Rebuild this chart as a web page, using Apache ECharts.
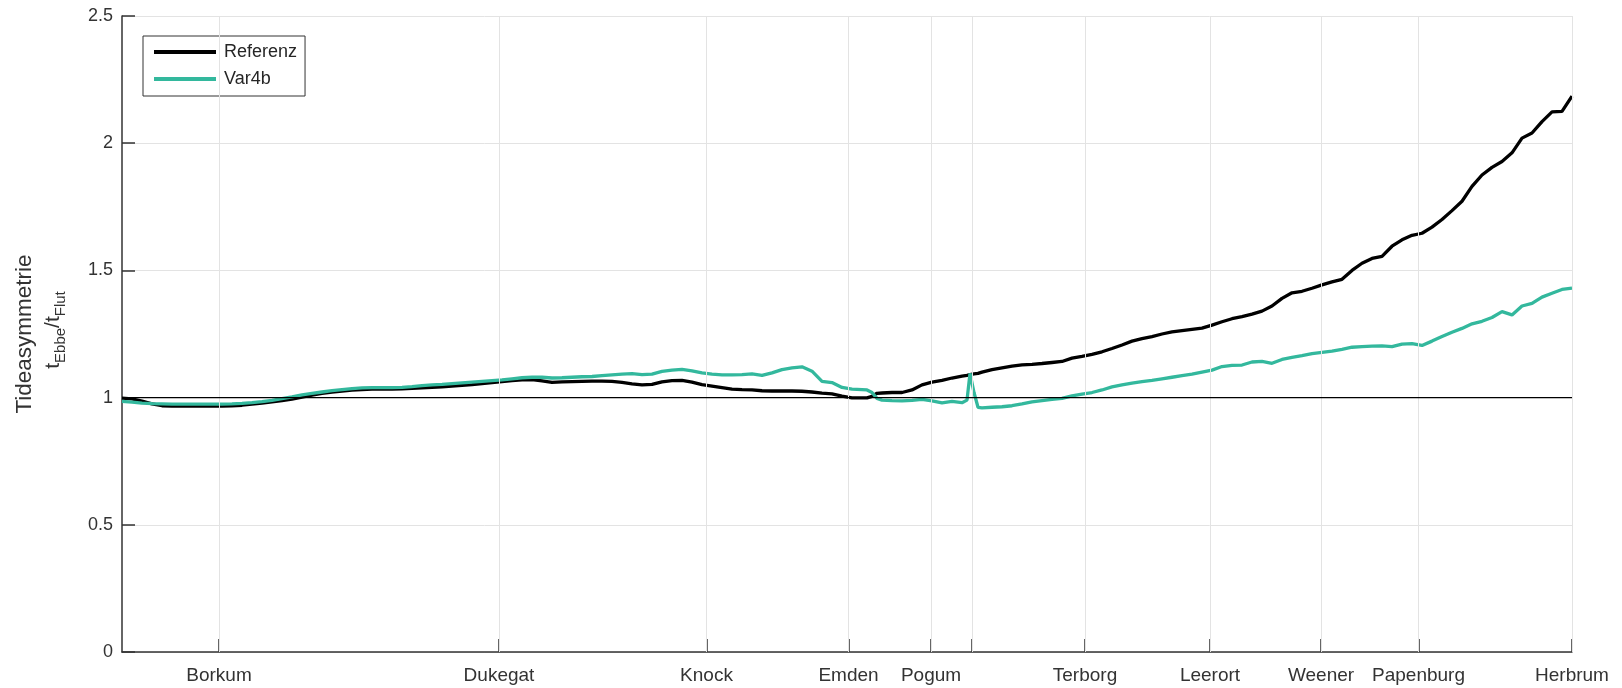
<!DOCTYPE html>
<html>
<head>
<meta charset="utf-8">
<script src="https://cdn.jsdelivr.net/npm/echarts@6/dist/echarts.min.js"></script>
<style>
  html, body { margin: 0; padding: 0; background: #fff; }
  #chart { width: 1622px; height: 688px; }
</style>
</head>
<body>
<div id="chart"></div>
<script>
// Gauging stations along the Ems (position in km from the left end of the profile)
const stationNames = ['Borkum', 'Dukegat', 'Knock', 'Emden', 'Pogum', '', 'Terborg', 'Leerort', 'Weener', 'Papenburg', 'Herbrum'];
const stationKm = [9.7, 37.7, 58.45, 72.65, 80.9, 85.0, 96.3, 108.8, 119.9, 129.65, 145.0];

// Profile positions (km)
const kmPos = [
  0, 1, 2, 3, 4, 5, 6, 7, 8, 9,
  10, 11, 12, 13, 14, 15, 16, 17, 18, 19,
  20, 21, 22, 23, 24, 25, 26, 27, 28, 29,
  30, 31, 32, 33, 34, 35, 36, 37, 38, 39,
  40, 41, 42, 43, 44, 45, 46, 47, 48, 49,
  50, 51, 52, 53, 54, 55, 56, 57, 58, 59,
  60, 61, 62, 63, 64, 65, 66, 67, 68, 69,
  70, 71, 72, 73, 74, 74.5, 75, 75.5, 76, 77, 78, 79,
  80, 81, 82, 83, 84, 84.5, 84.8, 85.2, 85.6, 86, 87, 88, 89,
  90, 91, 92, 93, 94, 95, 96, 97, 98, 99,
  100, 101, 102, 103, 104, 105, 106, 107, 108, 109,
  110, 111, 112, 113, 114, 115, 116, 117, 118, 119,
  120, 121, 122, 123, 124, 125, 126, 127, 128, 129,
  130, 131, 132, 133, 134, 135, 136, 137, 138, 139,
  140, 141, 142, 143, 144, 145
];

// Tidal asymmetry t_Ebbe / t_Flut, reference state
const referenz = [
  0.998, 0.995, 0.986, 0.975, 0.968, 0.967, 0.967, 0.967, 0.967, 0.967,
  0.967, 0.968, 0.970, 0.974, 0.978, 0.983, 0.988, 0.994, 1.002, 1.010,
  1.017, 1.022, 1.026, 1.029, 1.031, 1.033, 1.033, 1.033, 1.034, 1.036,
  1.038, 1.040, 1.042, 1.045, 1.048, 1.051, 1.055, 1.059, 1.063, 1.067,
  1.070, 1.071, 1.066, 1.060, 1.062, 1.063, 1.064, 1.065, 1.065, 1.064,
  1.060, 1.054, 1.050, 1.052, 1.062, 1.067, 1.068, 1.061, 1.051, 1.045,
  1.039, 1.033, 1.031, 1.030, 1.027, 1.026, 1.026, 1.026, 1.025, 1.022,
  1.018, 1.015, 1.006, 0.999, 0.999, 0.999, 1.005, 1.017, 1.018, 1.020, 1.020, 1.030,
  1.050, 1.061, 1.068, 1.077, 1.084, 1.087, 1.090, 1.093, 1.095, 1.100, 1.110, 1.117, 1.124,
  1.129, 1.131, 1.134, 1.138, 1.142, 1.155, 1.162, 1.170, 1.180, 1.193,
  1.207, 1.222, 1.232, 1.240, 1.250, 1.258, 1.263, 1.268, 1.273, 1.285,
  1.298, 1.310, 1.318, 1.328, 1.340, 1.360, 1.390, 1.412, 1.418, 1.430,
  1.443, 1.455, 1.465, 1.500, 1.528, 1.547, 1.555, 1.595, 1.620, 1.638,
  1.646, 1.670, 1.700, 1.735, 1.772, 1.830, 1.875, 1.905, 1.928, 1.962,
  2.020, 2.040, 2.085, 2.123, 2.125, 2.185
];

// Tidal asymmetry, variant 4b
const var4b = [
  0.985, 0.982, 0.978, 0.976, 0.975, 0.974, 0.974, 0.974, 0.974, 0.974,
  0.974, 0.975, 0.977, 0.980, 0.984, 0.989, 0.996, 1.003, 1.011, 1.017,
  1.022, 1.027, 1.031, 1.035, 1.038, 1.039, 1.039, 1.039, 1.040, 1.043,
  1.047, 1.050, 1.052, 1.055, 1.058, 1.061, 1.064, 1.067, 1.070, 1.074,
  1.078, 1.080, 1.080, 1.077, 1.078, 1.080, 1.082, 1.083, 1.086, 1.089,
  1.092, 1.094, 1.090, 1.092, 1.103, 1.108, 1.111, 1.105, 1.097, 1.092,
  1.089, 1.089, 1.090, 1.093, 1.087, 1.097, 1.110, 1.117, 1.121, 1.104,
  1.064, 1.059, 1.040, 1.033, 1.031, 1.030, 1.020, 0.997, 0.990, 0.988, 0.987, 0.989,
  0.993, 0.987, 0.979, 0.985, 0.980, 0.990, 1.095, 1.020, 0.962, 0.960, 0.962, 0.964, 0.968,
  0.975, 0.983, 0.988, 0.993, 0.997, 1.007, 1.014, 1.020, 1.030, 1.042,
  1.050, 1.057, 1.063, 1.068, 1.074, 1.080, 1.086, 1.092, 1.100, 1.108,
  1.122, 1.127, 1.128, 1.140, 1.142, 1.135, 1.150, 1.158, 1.165, 1.173,
  1.178, 1.183, 1.190, 1.198, 1.200, 1.202, 1.203, 1.200, 1.210, 1.212,
  1.205, 1.222, 1.240, 1.257, 1.272, 1.290, 1.300, 1.315, 1.338, 1.325,
  1.360, 1.370, 1.395, 1.410, 1.425, 1.430
];

// Horizontal reference level (symmetric tide)
const symmetryLevel = 1;

// Y-axis title: first line, and second line as (text, isSubscript) pieces
const yTitle = 'Tideasymmetrie';
const yTitleRatio = [['t', false], ['Ebbe', true], ['/t', false], ['Flut', true]];

const FONT = "'Liberation Sans', Arial, Helvetica, sans-serif";
const AXIS_COLOR = '#333333';
const TEXT_COLOR = '#333333';
const GRID_COLOR = '#e3e3e3';
const MAIN_SIZE = 21;
const SUB_SIZE = 15;
const SUB_DROP = 8;

const pairs = (xs, ys) => xs.map((x, i) => [x, ys[i]]);
const kmMin = kmPos[0];
const kmMax = kmPos[kmPos.length - 1];

// Lay out the second title line piece by piece so the subscripts sit below the baseline
const measureCtx = document.createElement('canvas').getContext('2d');
const textWidth = (txt, size) => { measureCtx.font = size + 'px ' + FONT; return measureCtx.measureText(txt).width; };
const ratioWidths = yTitleRatio.map(([t, sub]) => textWidth(t, sub ? SUB_SIZE : MAIN_SIZE));
const ratioTotal = ratioWidths.reduce((a, b) => a + b, 0);
let cursor = -ratioTotal / 2;
const ratioChildren = yTitleRatio.map(([t, sub], i) => {
  const el = {
    type: 'text',
    x: cursor,
    y: sub ? SUB_DROP : 0,
    style: {
      text: t,
      fontSize: sub ? SUB_SIZE : MAIN_SIZE,
      fontFamily: FONT,
      fill: TEXT_COLOR,
      align: 'left',
      verticalAlign: 'middle'
    }
  };
  cursor += ratioWidths[i];
  return el;
});

const chart = echarts.init(document.getElementById('chart'), null, { renderer: 'canvas' });

chart.setOption({
  animation: false,
  backgroundColor: '#ffffff',
  grid: { left: 122, right: 50, top: 16, bottom: 36, containLabel: false, outerBoundsMode: 'none' },
  legend: {
    data: ['Referenz', 'Var4b'],
    orient: 'vertical',
    left: 143,
    top: 36,
    padding: [7, 8, 8, 11],
    itemGap: 9,
    itemWidth: 62,
    itemHeight: 4,
    icon: 'rect',
    borderColor: '#333333',
    borderWidth: 1,
    borderRadius: 0,
    backgroundColor: '#ffffff',
    textStyle: { fontSize: 18, color: '#262626', fontFamily: FONT, padding: [0, 0, 0, 3] }
  },
  xAxis: {
    type: 'value',
    min: kmMin,
    max: kmMax,
    axisLine: { show: true, onZero: false, lineStyle: { color: AXIS_COLOR, width: 1.5 } },
    axisTick: { show: true, inside: true, length: 13, customValues: stationKm, lineStyle: { color: AXIS_COLOR, width: 1.5 } },
    axisLabel: {
      show: true,
      customValues: stationKm,
      margin: 14,
      fontSize: 19,
      fontFamily: FONT,
      color: TEXT_COLOR,
      formatter: (v) => {
        const i = stationKm.findIndex((s) => Math.abs(s - v) < 1e-6);
        return i >= 0 ? stationNames[i] : '';
      }
    },
    splitLine: { show: false }
  },
  yAxis: {
    type: 'value',
    min: 0,
    max: 2.5,
    interval: 0.5,
    axisLine: { show: true, onZero: false, lineStyle: { color: AXIS_COLOR, width: 1.5 } },
    axisTick: { show: true, inside: true, length: 13, lineStyle: { color: AXIS_COLOR, width: 1.5 } },
    axisLabel: { margin: 9, fontSize: 18, fontFamily: FONT, color: TEXT_COLOR },
    splitLine: { show: true, lineStyle: { color: GRID_COLOR, width: 1 } }
  },
  graphic: [
    {
      type: 'text',
      x: 25,
      y: 334,
      rotation: Math.PI / 2,
      style: {
        text: yTitle,
        fontSize: 22.5,
        fontFamily: FONT,
        fill: TEXT_COLOR,
        align: 'center',
        verticalAlign: 'middle'
      }
    },
    {
      type: 'group',
      x: 53,
      y: 330,
      rotation: Math.PI / 2,
      children: ratioChildren
    }
  ],
  series: [
    {
      // vertical grid lines at the gauging stations
      name: 'stations',
      type: 'line',
      data: [],
      z: 1,
      silent: true,
      markLine: {
        silent: true,
        symbol: ['none', 'none'],
        label: { show: false },
        emphasis: { disabled: true },
        lineStyle: { color: GRID_COLOR, width: 1, type: 'solid' },
        data: stationKm.map((v) => ({ xAxis: v }))
      }
    },
    {
      name: 'Referenz',
      type: 'line',
      data: pairs(kmPos, referenz),
      showSymbol: false,
      z: 3,
      color: '#000000',
      lineStyle: { color: '#000000', width: 3.3 },
      itemStyle: { color: '#000000' }
    },
    {
      name: 'Var4b',
      type: 'line',
      data: pairs(kmPos, var4b),
      showSymbol: false,
      z: 4,
      color: '#33b89d',
      lineStyle: { color: '#33b89d', width: 3.3 },
      itemStyle: { color: '#33b89d' }
    },
    {
      name: 'symmetry',
      type: 'line',
      data: [[kmMin, symmetryLevel], [kmMax, symmetryLevel]],
      showSymbol: false,
      silent: true,
      z: 5,
      lineStyle: { color: '#000000', width: 1.3 }
    }
  ]
});
</script>
</body>
</html>
